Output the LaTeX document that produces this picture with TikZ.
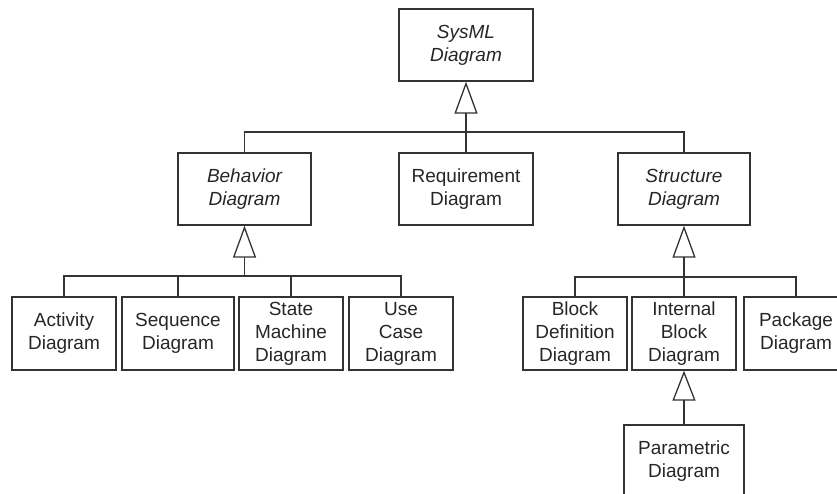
\documentclass[tikz,border=0pt]{standalone}
\usepackage{fontspec}
\setmainfont{Liberation Sans}
\usepackage{tikz}
\usetikzlibrary{arrows.meta,positioning}

\begin{document}
\begin{tikzpicture}[x=1pt, y=-1pt,
    every node/.style={font=\fontsize{19}{23}\selectfont, text=black!85},
    diag/.style={draw=black!80, line width=1.3pt, rectangle, align=center, inner sep=0pt, minimum height=72pt},
    gen/.style={draw=black!80, line width=1.3pt, -{Triangle[open, length=32pt, width=23pt, line width=1.3pt]}},
    link/.style={draw=black!80, line width=1.3pt}]
      \useasboundingbox (0,0) rectangle (837,493);

      % Root
      \node[diag, minimum width=134pt] (sysml) at (466, 45) {\itshape SysML\\\itshape Diagram};

      % Second level
      \node[diag, minimum width=133pt] (beh) at (244.5, 189) {\itshape Behavior\\\itshape Diagram};
      \node[diag, minimum width=134pt] (req) at (466, 189) {Requirement\\Diagram};
      \node[diag, minimum width=132pt] (struct) at (684, 189) {\itshape Structure\\\itshape Diagram};

      % Behavior diagrams
      \node[diag, minimum width=104pt, minimum height=73pt] (act) at (64, 333.5) {Activity\\Diagram};
      \node[diag, minimum width=112pt, minimum height=73pt] (seq) at (178, 333.5) {Sequence\\Diagram};
      \node[diag, minimum width=104pt, minimum height=73pt] (stm) at (291, 333.5) {State\\Machine\\Diagram};
      \node[diag, minimum width=104pt, minimum height=73pt] (uc) at (401, 333.5) {Use\\Case\\Diagram};

      % Structure diagrams
      \node[diag, minimum width=104pt, minimum height=73pt] (bdd) at (575, 333.5) {Block\\Definition\\Diagram};
      \node[diag, minimum width=104pt, minimum height=73pt] (ibd) at (684, 333.5) {Internal\\Block\\Diagram};
      \node[diag, minimum width=104pt, minimum height=73pt] (pkg) at (796, 333.5) {Package\\Diagram};
      \node[diag, minimum width=120pt] (par) at (684, 461) {Parametric\\Diagram};

      % Junctions
      \coordinate (topbar) at (466, 132);
      \coordinate (behbar) at (244.5, 276);
      \coordinate (strbar) at (684, 277);
      \coordinate (ibdbar) at (684, 400);

      % Generalizations
      \draw[gen] (topbar) -- (sysml.south);
      \draw[link] (beh.north) |- (topbar);
      \draw[link] (req.north) -- (topbar);
      \draw[link] (struct.north) |- (topbar);

      \draw[gen] (behbar) -- (beh.south);
      \draw[link] (act.north) |- (behbar);
      \draw[link] (seq.north) |- (behbar);
      \draw[link] (stm.north) |- (behbar);
      \draw[link] (uc.north) |- (behbar);

      \draw[gen] (strbar) -- (struct.south);
      \draw[link] (bdd.north) |- (strbar);
      \draw[link] (ibd.north) -- (strbar);
      \draw[link] (pkg.north) |- (strbar);

      \draw[gen, -{Triangle[open, length=30pt, width=23pt, line width=1.3pt]}] (par.north) -- (ibd.south);
    \end{tikzpicture}
\end{document}
